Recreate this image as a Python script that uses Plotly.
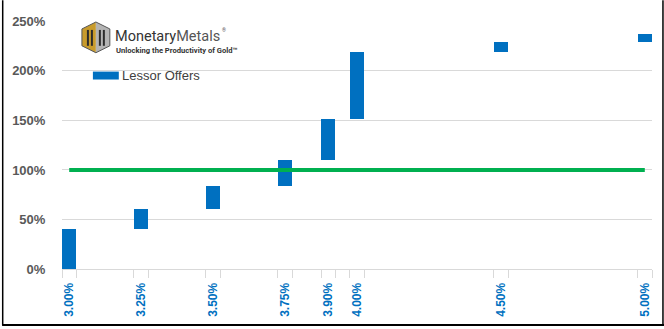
import plotly.graph_objects as go

# Lease rates offered and the cumulative share of demand each tranche covers (%)
rates = [3.00, 3.25, 3.50, 3.75, 3.90, 4.00, 4.50, 5.00]
rate_labels = ["3.00%", "3.25%", "3.50%", "3.75%", "3.90%", "4.00%", "4.50%", "5.00%"]
offer_low = [0, 40, 61, 84, 110, 151, 219, 229]
offer_high = [40, 61, 84, 110, 151, 219, 229, 237]
target_level = 100
y_ticks = [0, 50, 100, 150, 200, 250]

BAR_W = 0.05
BLUE = "#0070C0"
GREEN = "#00B050"
GRID = "#D9D9D9"

W, H = 664, 329
ML, MR, MT, MB = 60, 12, 21, 58
PW, PH = W - ML - MR, H - MT - MB


def px(x):
    return (x - ML) / PW


def py(y):
    return (H - MB - y) / PH


fig = go.Figure()

fig.add_trace(go.Bar(
    x=rates,
    y=[h - l for l, h in zip(offer_low, offer_high)],
    base=offer_low,
    width=BAR_W,
    offset=0,
    marker=dict(color=BLUE, line=dict(width=0)),
    name="Lessor Offers",
    showlegend=False,
))

centers = [r + BAR_W / 2 for r in rates]
fig.add_trace(go.Scatter(
    x=[centers[0], centers[-1]],
    y=[target_level, target_level],
    mode="lines",
    line=dict(color=GREEN, width=4),
    showlegend=False,
    hoverinfo="skip",
))

# tick marks sit at both edges of every bar
edges = sorted(set(rates + [r + BAR_W for r in rates]))

fig.update_layout(
    width=W, height=H, autosize=False,
    margin=dict(l=ML, r=MR, t=MT, b=MB),
    paper_bgcolor="white", plot_bgcolor="white",
    bargap=0,
    xaxis=dict(
        range=[rates[0], rates[-1] + BAR_W],
        tickvals=edges,
        showticklabels=False,
        ticks="outside", ticklen=8, tickcolor=GRID, tickwidth=1,
        showgrid=False, zeroline=False,
        showline=True, linecolor=GRID, linewidth=1,
    ),
    xaxis2=dict(
        overlaying="x", matches="x", side="bottom",
        tickvals=centers, ticktext=rate_labels,
        tickangle=-90,
        ticks="outside", ticklen=8, tickcolor="rgba(0,0,0,0)",
        tickfont=dict(family="Liberation Sans", size=12, color=BLUE, weight="bold"),
        showgrid=False, zeroline=False, showline=False,
    ),
    yaxis=dict(
        range=[0, 250.4],
        tickvals=y_ticks,
        ticktext=[f"{v}%" for v in y_ticks],
        ticks="outside", ticklen=13, tickcolor="rgba(0,0,0,0)",
        tickfont=dict(family="Liberation Sans", size=13, color="#595959", weight="bold"),
        showgrid=True, gridcolor=GRID, gridwidth=1,
        zeroline=False, showline=False,
    ),
)

# invisible trace so the label axis is drawn
fig.add_trace(go.Scatter(x=[centers[0]], y=[0], xaxis="x2", mode="markers",
                         marker=dict(opacity=0), showlegend=False, hoverinfo="skip"))

shapes = []

# chart border
for x0, y0, x1, y1 in [(0.5, 0, 0.5, 328), (663, 0, 663, 328), (0, 327.5, 664, 327.5)]:
    shapes.append(dict(type="line", xref="paper", yref="paper",
                       x0=px(x0), y0=py(y0), x1=px(x1), y1=py(y1),
                       line=dict(color="black", width=2 if y0 == y1 else 1.5)))


def poly(points, fill, line_color=None, lw=0):
    path = "M " + " L ".join(f"{px(x)},{py(y)}" for x, y in points) + " Z"
    return dict(type="path", xref="paper", yref="paper", path=path,
                fillcolor=fill, line=dict(color=line_color or fill, width=lw))


# Monetary Metals emblem
cx, top, bot, left, right = 94, 22, 53, 80, 108
shapes.append(poly([(cx, top), (left, 29), (left, 46), (cx, bot)], "#C89B2C"))
shapes.append(poly([(cx, top), (right, 29), (right, 46), (cx, bot)], "#B4B4B4"))
shapes.append(poly([(cx, top), (right, 29), (right, 46), (cx, bot), (left, 46), (left, 29)],
                   "rgba(0,0,0,0)", "#555555", 1))
for bx in [85, 89, 97, 101]:
    shapes.append(poly([(bx, 30), (bx + 2, 30), (bx + 2, 46), (bx, 46)], "#2B2B2B"))

# legend swatch
shapes.append(poly([(91, 72), (117, 72), (117, 80), (91, 80)], BLUE))

annotations = [
    dict(xref="paper", yref="paper", x=px(111), y=py(37), xanchor="left", yanchor="middle",
         text="<span style='color:#333333'>Monetary</span><span style='color:#555555'>Metals</span>",
         showarrow=False, font=dict(family="Roboto", size=14.5)),
    dict(xref="paper", yref="paper", x=px(219), y=py(30), xanchor="left", yanchor="middle",
         text="®", showarrow=False, font=dict(family="Roboto", size=5, color="#555555")),
    dict(xref="paper", yref="paper", x=px(112), y=py(51), xanchor="left", yanchor="middle",
         text="Unlocking the Productivity of Gold™", showarrow=False,
         font=dict(family="Roboto", size=7.6, color="#333333", weight="bold")),
    dict(xref="paper", yref="paper", x=px(118), y=py(75.5), xanchor="left", yanchor="middle",
         text="Lessor Offers", showarrow=False,
         font=dict(family="Liberation Sans", size=13, color="#404040")),
]

fig.update_layout(shapes=shapes, annotations=annotations)

fig.write_html("out.html")
